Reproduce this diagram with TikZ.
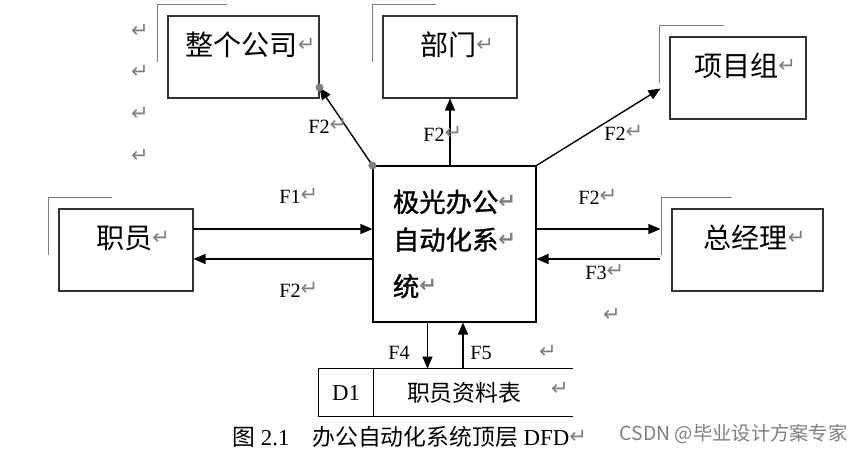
\documentclass[tikz,border=0pt]{standalone}
\usepackage{fontspec}
\setmainfont{Liberation Serif}
\newfontfamily\cjk{Noto Sans CJK SC}
\newfontfamily\cjkb{Noto Sans CJK SC}[BoldFont=Noto Sans CJK SC, BoldFeatures={FakeBold=1.2}]
\newfontfamily\sym{DejaVu Sans}
\usetikzlibrary{arrows.meta,calc}
\newcommand{\ret}{\raisebox{0.25ex}{\sym\color{gray}\fontsize{12}{13}\selectfont ↵}}

\begin{document}
\begin{tikzpicture}[x=0.02cm,y=-0.02cm,
  entity/.style={draw=black!80, line width=0.6pt, inner sep=0pt,
    text height=0.78cm, text depth=0.86cm,
    font=\cjk\fontsize{16}{19}\selectfont,
    execute at begin node={\hspace*{0.28cm}}},
  corner/.style={draw=gray, line width=0.8pt},
  flow/.style={-{Triangle[length=0.24cm,width=0.2cm]}, line width=0.8pt},
  lab/.style={anchor=west, inner sep=0pt, font=\fontsize{11.5}{13}\selectfont}]
  \useasboundingbox (0,0) rectangle (863,453);

  % ENTITIES
  \node[entity, minimum width=3.02cm] (co)   at (243.5,57) {整个公司\ret};
  \node[entity, minimum width=2.68cm] (dept) at (450,57)   {部门\ret};
  \node[entity, minimum width=2.72cm] (proj) at (738,78)   {项目组\ret};
  \node[entity, minimum width=3.02cm] (gm)   at (747.5,250) {总经理\ret};
  \node[entity, minimum width=2.68cm] (emp)  at (126,250)  {职员\ret};

  % shadow corners
  \foreach \n/\w in {co/60, dept/54, proj/55, gm/61, emp/54}
    \draw[corner] ($(\n.north west)+(-10,47)$) |- ($(\n.north west)+(\w,-11)$);

  % PROCESS
  \node[draw, line width=0.6pt, minimum width=3.26cm, minimum height=3.12cm,
    align=left, inner sep=0pt, font=\cjkb\bfseries\fontsize{15}{21.5}\selectfont]
    (sys) at (454.5,244) {极光办公\ret\\自动化系\ret\\[5pt]统\ret};

  % DATA STORE
  \node[minimum width=1.08cm, minimum height=0.94cm, inner sep=0pt,
    font=\fontsize{13}{15}\selectfont] (d1) at (346,392.5) {D1};
  \node[minimum width=3.98cm, minimum height=0.94cm, inner sep=0pt, anchor=west,
    font=\cjk\fontsize{13}{15}\selectfont] (store) at (d1.east) {职员资料表\hspace*{0.36cm}};
  \draw[line width=0.6pt] (store.north east) -- (d1.north west)
    -- (d1.south west) -- (store.south east);
  \draw[line width=0.6pt] (d1.north east) -- (d1.south east);

  % ARROWS
  \coordinate (coin)   at ($(co.south east)+(0,-11)$);
  \coordinate (projin) at ($(proj.south west)+(-9,-31)$);
  \coordinate (gmin)   at ($(gm.west)+(-11,-21)$);
  \coordinate (gmout)  at ($(gm.west)+(-11,9)$);
  \coordinate (empout) at ($(emp.east)+(0,-21)$);
  \coordinate (empin)  at ($(emp.east)+(0,9)$);

  \draw[flow] (sys.north west) -- (coin);
  \fill[gray] (sys.north west) circle (0.08cm) (coin) circle (0.08cm);
  \draw[flow] (sys.north -| dept.south) -- (dept.south);
  \draw[flow] (sys.north east) -- (projin);
  \draw[flow] (sys.east |- gmin) -- (gmin);
  \draw[flow] (gmout) -- (sys.east |- gmout);
  \draw[flow] (empout) -- (sys.west |- empout);
  \draw[flow] (sys.west |- empin) -- (empin);
  \draw[flow] ($(sys.south)+(-27,0)$) -- ($(store.north -| sys.south)+(-27,0)$);
  \draw[flow] ($(store.north -| sys.south)+(8.5,0)$) -- ($(sys.south)+(8.5,0)$);

  % NOTES
  \node[lab] (f2co)   at (308,126) {F2\ret};
  \node[lab] (f2dept) at (423,134) {F2\ret};
  \node[lab] (f2proj) at (604,133) {F2\ret};
  \node[lab] (f1)     at (279,196) {F1\ret};
  \node[lab] (f2emp)  at (279,290) {F2\ret};
  \node[lab] (f2gm)   at (578,197) {F2\ret};
  \node[lab] (f3)     at (585,272) {F3\ret};
  \node[lab] (f4)     at (388,353) {F4};
  \node[lab] (f5)     at (470,353) {F5};
  \foreach \p [count=\i] in {(140,32),(140,73),(140,115),(140,157),(612,316),(548,353),(560,390)}
    \node (ret\i) at \p {\ret};

  % CAPTION
  \node[anchor=west, inner sep=0pt, font=\fontsize{13}{15}\selectfont] (cap) at (232,437)
    {{\cjk 图} 2.1\hspace{0.46cm}{\cjk 办公自动化系统顶层} DFD\ret};
  \node[anchor=east, inner sep=0pt, text=gray, font=\cjk\fontsize{11}{13}\selectfont]
    (mark) at (848,434) {CSDN @毕业设计方案专家};
\end{tikzpicture}
\end{document}
